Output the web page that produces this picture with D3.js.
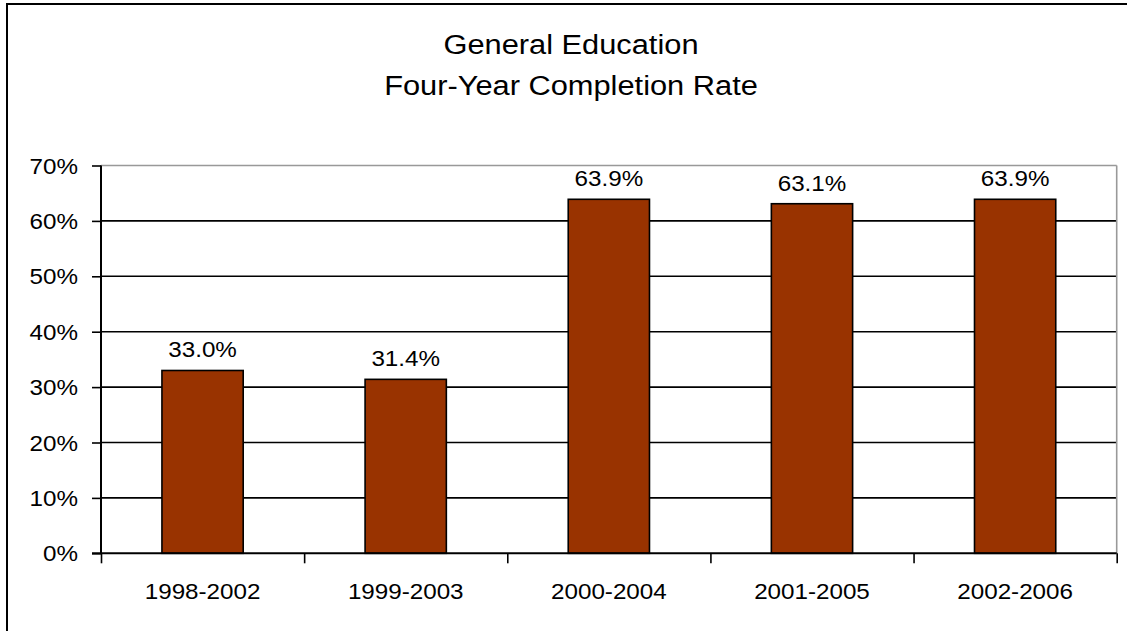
<!DOCTYPE html>
<html><head><meta charset="utf-8">
<script src="https://cdn.jsdelivr.net/npm/d3@7"></script>
<style>body{margin:0;background:#fff}svg{display:block}text{font-family:"Liberation Sans",Arial,sans-serif;fill:#000}</style>
</head><body>
<svg id="c" width="1127" height="631"></svg>
<script>
const categories = ["1998-2002","1999-2003","2000-2004","2001-2005","2002-2006"];
const values = [33.0, 31.4, 63.9, 63.1, 63.9];
const yTicks = [0,10,20,30,40,50,60,70];
const titleLines = ["General Education","Four-Year Completion Rate"];

const svg = d3.select("#c");
const W = 1127, H = 631;
const m = {left:101, right:1116.7, top:165.5, bottom:553.3};
const sx = 1.1;

svg.append("rect").attr("x",0).attr("y",0).attr("width",W).attr("height",H).attr("fill","#fff");
// outer border
svg.append("rect").attr("x",7).attr("y",4).attr("width",W+20).attr("height",H+20)
  .attr("fill","none").attr("stroke","#000").attr("stroke-width",2);

const x = d3.scaleBand().domain(categories).range([m.left,m.right]).paddingInner(0.6).paddingOuter(0.3);
const xb = d3.scaleBand().domain(categories).range([m.left,m.right]);
const y = d3.scaleLinear().domain([0,70]).range([m.bottom,m.top]);

function stxt(g, px, py, str, size, anchor){
  const t = g.append("g").attr("transform",`translate(${px},${py}) scale(${sx},1)`);
  t.append("text").attr("text-anchor",anchor).style("font-size",size+"px").text(str);
  return t;
}

// title
titleLines.forEach((s,i)=>{
  const t = svg.append("g").attr("transform",`translate(571,${54+i*41}) scale(1.1,1)`);
  t.append("text").attr("text-anchor","middle").style("font-size","28px").text(s);
});

// gridlines
svg.append("g").selectAll("line").data(yTicks.filter(d=>d>0&&d<70)).join("line")
  .attr("x1",m.left).attr("x2",m.right).attr("y1",d=>y(d)).attr("y2",d=>y(d))
  .attr("stroke","#000").attr("stroke-width",1.6);
// plot border top/right gray
svg.append("line").attr("x1",m.left).attr("x2",m.right).attr("y1",y(70)).attr("y2",y(70)).attr("stroke","#999").attr("stroke-width",1.6);
svg.append("line").attr("x1",m.right).attr("x2",m.right).attr("y1",y(70)).attr("y2",y(0)).attr("stroke","#999").attr("stroke-width",1.6);

// bars
svg.append("g").selectAll("rect").data(values).join("rect")
  .attr("x",(d,i)=>x(categories[i])).attr("width",x.bandwidth())
  .attr("y",d=>y(d)).attr("height",d=>y(0)-y(d))
  .attr("fill","#993300").attr("stroke","#000").attr("stroke-width",1.6);

// bar labels
values.forEach((v,i)=>{
  stxt(svg, x(categories[i])+x.bandwidth()/2, y(v)-13, v.toFixed(1)+"%", 22, "middle");
});

// y axis
const ya = svg.append("g").attr("transform",`translate(${m.left},0)`)
  .call(d3.axisLeft(y).tickValues(yTicks).tickSize(9).tickFormat(d=>d+"%"));
ya.select(".domain").attr("stroke","#000").attr("stroke-width",2).attr("d",`M0,${y(70)}V${y(0)}`);
ya.selectAll(".tick line").attr("stroke","#000").attr("stroke-width",1.6);
ya.selectAll(".tick text").remove();
yTicks.forEach(d=>{ stxt(svg, 78, y(d)+8, d+"%", 22, "end"); });

// x axis
const bounds = categories.map(c=>xb(c)).concat([m.right]);
const xa = svg.append("g").attr("transform",`translate(0,${m.bottom})`)
  .call(d3.axisBottom(d3.scaleLinear().domain([m.left,m.right]).range([m.left,m.right])).tickValues(bounds).tickSize(10).tickFormat(""));
xa.select(".domain").attr("stroke","#000").attr("stroke-width",2).attr("d",`M${m.left-9},0H${m.right}`);
xa.selectAll(".tick line").attr("stroke","#000").attr("stroke-width",1.6);
categories.forEach(c=>{ stxt(svg, xb(c)+xb.bandwidth()/2, 599, c, 22, "middle"); });
</script>
</body></html>
